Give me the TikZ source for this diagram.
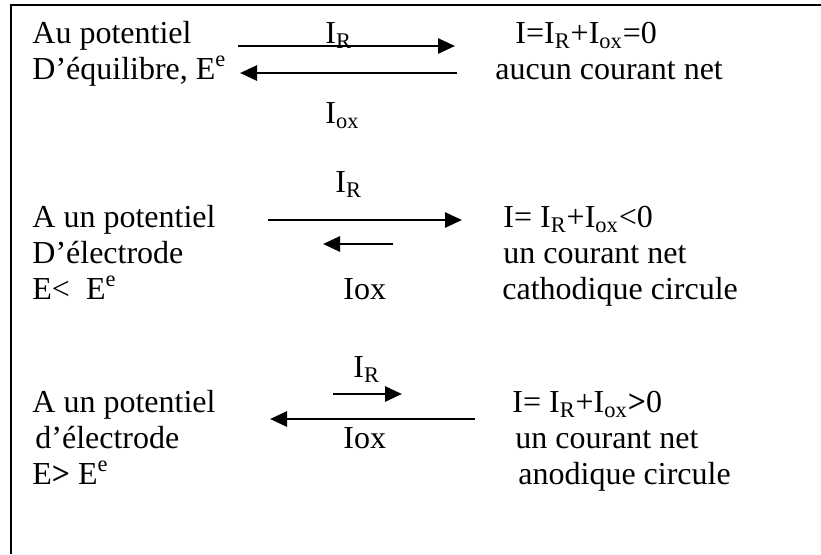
\documentclass[tikz,border=0pt]{standalone}
\usepackage{fontspec}
\setmainfont{Liberation Serif}
\usetikzlibrary{arrows.meta}
\newcommand{\Ir}{I\textsubscript{R}}
\newcommand{\Iox}{I\textsubscript{ox}}
\newcommand{\Ee}{E\textsuperscript{e}}

\begin{document}
\begin{tikzpicture}[x=0.5pt,y=-0.5pt,>={Triangle[length=8.5pt,width=7.5pt]},
  txt/.style={anchor=base west,inner sep=0pt,font=\fontsize{16}{18}\selectfont},
  flux/.style={->,line width=1.4pt}]
  \useasboundingbox (0,0) rectangle (821,554);
  \draw[line width=1pt] (821,5) -- (11,5) -- (11,554);
  % au potentiel d'equilibre
  \node[txt] (a1) at (32,43)  {Au potentiel};
  \node[txt] (a2) at (32,79)  {D’équilibre, \Ee};
  \node[txt] (ar) at (325,43) {\Ir};
  \node[txt] (ao) at (325,123) {\Iox};
  \node[txt] (ai) at (515,43) {I=\Ir+\Iox=0};
  \node[txt] (an) at (495,79) {aucun courant net};
  \coordinate (a1s) at (238,46);  \coordinate (a1e) at (455,46);
  \coordinate (a2s) at (457,73);  \coordinate (a2e) at (240,73);
  \draw[flux] (a1s) -- (a1e);
  \draw[flux] (a2s) -- (a2e);
  % E < Ee
  \node[txt] (b1) at (32,227) {A un potentiel};
  \node[txt] (b2) at (32,263) {D’électrode};
  \node[txt] (b3) at (32,299) {E<~~\Ee};
  \node[txt] (br) at (335,192) {\Ir};
  \node[txt] (bo) at (343,299) {Iox};
  \node[txt] (bi) at (503,227) {I= \Ir+\Iox<0};
  \node[txt] (bn) at (503,263) {un courant net};
  \node[txt] (bc) at (502,299) {cathodique circule};
  \coordinate (b1s) at (268,220); \coordinate (b1e) at (462,220);
  \coordinate (b2s) at (393,244); \coordinate (b2e) at (323,244);
  \draw[flux] (b1s) -- (b1e);
  \draw[flux] (b2s) -- (b2e);
  % E > Ee
  \node[txt] (c1) at (32,412) {A un potentiel};
  \node[txt] (c2) at (35,448) {d’électrode};
  \node[txt] (c3) at (32,484) {E\textbf{>} \Ee};
  \node[txt] (cr) at (353,377) {\Ir};
  \node[txt] (co) at (343,448) {Iox};
  \node[txt] (ci) at (512,412) {I= \Ir+\Iox\textbf{>}0};
  \node[txt] (cn) at (515,448) {un courant net};
  \node[txt] (cc) at (518,484) {anodique circule};
  \coordinate (c1s) at (333,394); \coordinate (c1e) at (402,394);
  \coordinate (c2s) at (475,419); \coordinate (c2e) at (270,419);
  \draw[flux] (c1s) -- (c1e);
  \draw[flux] (c2s) -- (c2e);
\end{tikzpicture}
\end{document}
